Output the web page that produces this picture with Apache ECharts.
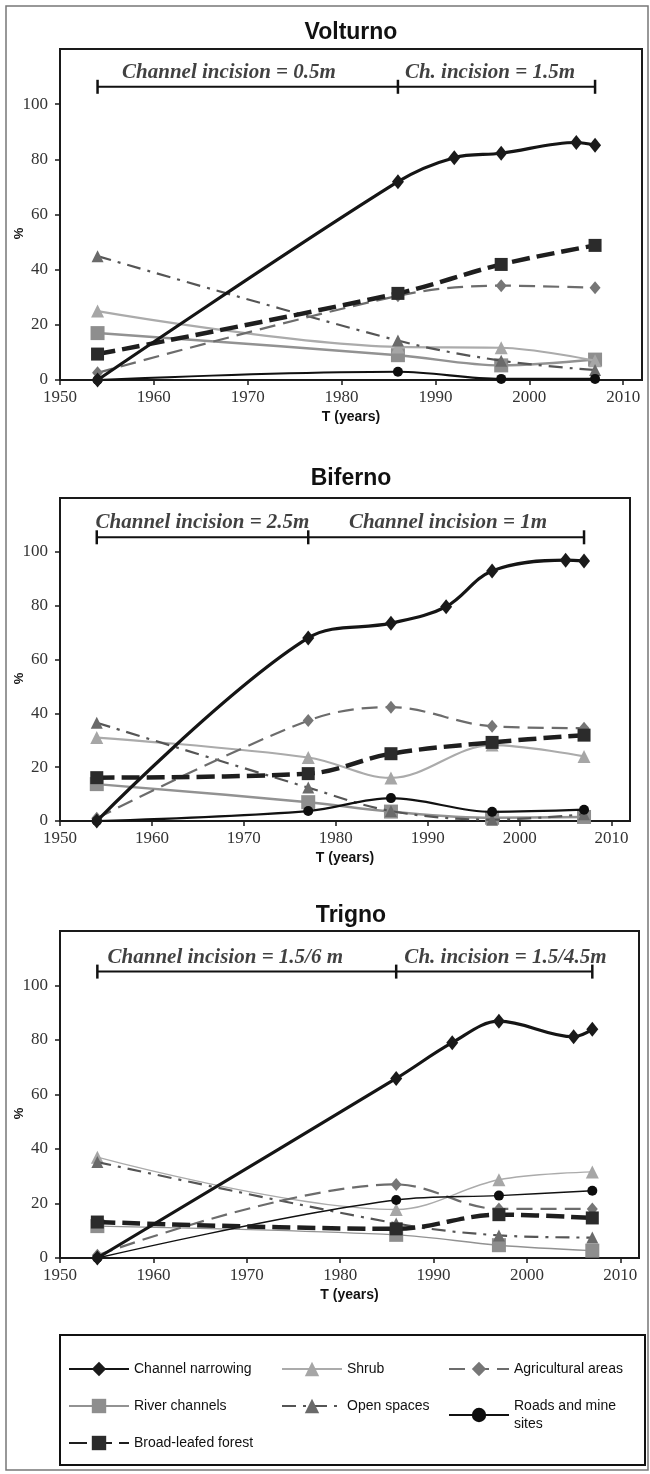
<!DOCTYPE html>
<html><head><meta charset="utf-8">
<script src="https://cdn.jsdelivr.net/npm/echarts@6/dist/echarts.min.js"></script>
<style>html,body{margin:0;padding:0;background:#fff}#c{width:650px;height:1474px}</style>
</head><body><div id="c"></div>
<script>
// ---------- data ----------
const panelTitles = ['Volturno', 'Biferno', 'Trigno'];
const xTickYears = [1950, 1960, 1970, 1980, 1990, 2000, 2010];
const yTickValues = [0, 20, 40, 60, 80, 100];
const seriesNames = ['River channels', 'Shrub', 'Open spaces', 'Agricultural areas',
  'Roads and mine sites', 'Broad-leafed forest', 'Channel narrowing'];

// Volturno
const volYearsCN = [1954, 1986, 1992, 1997, 2005, 2007];
const volCN = [0, 71.9, 80.6, 82.2, 86.1, 85.1];
const volYears = [1954, 1986, 1997, 2007];
const volRiver = [17, 9, 5.3, 7.4];
const volShrub = [25, 12, 11.7, 7];
const volOpen = [44.9, 14.3, 7, 3.6];
const volAgri = [2.6, 30.5, 34.2, 33.4];
const volRoads = [0, 3, 0.4, 0.4];
const volForest = [9.4, 31.4, 41.9, 48.8];
const volBracketYears = [1954, 1986, 2007];
const volBracketLevel = 106.3;
const volNotes = ['Channel incision = 0.5m', 'Ch. incision = 1.5m'];
const volNoteYears = [1968, 1995.8];

// Biferno
const bifYearsCN = [1954, 1977, 1986, 1992, 1997, 2005, 2007];
const bifCN = [0, 68, 73.5, 79.6, 92.9, 96.9, 96.6];
const bifYears = [1954, 1977, 1986, 1997, 2007];
const bifRiver = [13.7, 7, 3.5, 1.2, 1.5];
const bifShrub = [31, 23.6, 16, 28.2, 24];
const bifOpen = [36.5, 12.4, 3.7, 0.5, 2.5];
const bifAgri = [1, 37.3, 42.3, 35.2, 34.5];
const bifRoads = [0, 3.7, 8.5, 3.4, 4.2];
const bifForest = [16.1, 17.6, 25, 29.2, 31.9];
const bifBracketYears = [1954, 1977, 2007];
const bifBracketLevel = 105.4;
const bifNotes = ['Channel incision = 2.5m', 'Channel incision = 1m'];
const bifNoteYears = [1965.5, 1992.2];

// Trigno
const triYearsCN = [1954, 1986, 1992, 1997, 2005, 2007];
const triCN = [0, 65.9, 79, 86.9, 81.2, 83.9];
const triYears = [1954, 1986, 1997, 2007];
const triRiver = [11.7, 8.5, 4.7, 2.7];
const triShrub = [37, 17.8, 28.7, 31.6];
const triOpen = [35.2, 12.7, 8.3, 7.5];
const triAgri = [1, 27, 18, 18];
const triRoads = [0, 21.3, 22.9, 24.7];
const triForest = [13.2, 10.7, 15.9, 14.7];
const triBracketYears = [1954, 1986, 2007];
const triBracketLevel = 105.1;
const triNotes = ['Channel incision = 1.5/6 m', 'Ch. incision = 1.5/4.5m'];
const triNoteYears = [1967.7, 1997.7];

// ---------- assembly ----------
const panels = [
  {yearsCN: volYearsCN, cn: volCN, years: volYears, river: volRiver, shrub: volShrub, open: volOpen,
   agri: volAgri, roads: volRoads, forest: volForest, bYears: volBracketYears, bLevel: volBracketLevel,
   notes: volNotes, noteYears: volNoteYears},
  {yearsCN: bifYearsCN, cn: bifCN, years: bifYears, river: bifRiver, shrub: bifShrub, open: bifOpen,
   agri: bifAgri, roads: bifRoads, forest: bifForest, bYears: bifBracketYears, bLevel: bifBracketLevel,
   notes: bifNotes, noteYears: bifNoteYears},
  {yearsCN: triYearsCN, cn: triCN, years: triYears, river: triRiver, shrub: triShrub, open: triOpen,
   agri: triAgri, roads: triRoads, forest: triForest, bYears: triBracketYears, bLevel: triBracketLevel,
   notes: triNotes, noteYears: triNoteYears}
];

// layout (pixels)
const layout = [
  {left: 60, top: 49, width: 582, height: 331, titleTop: 16, thin: false},
  {left: 60, top: 498, width: 570, height: 323, titleTop: 462, thin: false},
  {left: 60, top: 931, width: 579, height: 327, titleTop: 899, thin: true}
];

const styles = {
  'River channels': {color: '#8e8e8e', line: '#929292', width: 2.5, type: 'solid', symbol: 'rect', size: 14},
  'Shrub': {color: '#a6a6a6', line: '#ababab', width: 2.2, type: 'solid', symbol: 'triangle', size: 13},
  'Open spaces': {color: '#6a6a6a', line: '#555555', width: 2.2, type: [14, 7, 3, 7], symbol: 'triangle', size: 12},
  'Agricultural areas': {color: '#767676', line: '#6c6c6c', width: 2.2, type: [16, 8], symbol: 'diamond', size: [11, 13]},
  'Roads and mine sites': {color: '#0d0d0d', line: '#111111', width: 2.2, type: 'solid', symbol: 'circle', size: 10},
  'Broad-leafed forest': {color: '#2b2b2b', line: '#1e1e1e', width: 4.5, type: [18, 7], symbol: 'rect', size: 13},
  'Channel narrowing': {color: '#1a1a1a', line: '#151515', width: 3.2, type: 'solid', symbol: 'diamond', size: [12, 15]}
};

const serifFont = 'Liberation Serif';
const sansFont = 'Liberation Sans';

const grids = [], xAxes = [], yAxes = [], series = [], titles = [];

panels.forEach((p, i) => {
  const L = layout[i];
  grids.push({left: L.left, top: L.top, width: L.width, height: L.height, show: true,
    outerBoundsMode: 'none', containLabel: false,
    borderColor: '#1a1a1a', borderWidth: 2, backgroundColor: 'transparent'});
  titles.push({text: panelTitles[i], left: 346, top: L.titleTop, textAlign: 'center',
    textStyle: {fontFamily: sansFont, fontWeight: 'bold', fontSize: 23, color: '#111'}});
  xAxes.push({type: 'value', gridIndex: i, min: 1950, max: 2012, interval: 10,
    name: 'T (years)', nameLocation: 'middle', nameGap: 30, nameMoveOverlap: false,
    nameTextStyle: {fontFamily: sansFont, fontWeight: 'bold', fontSize: 14, color: '#111'},
    axisLine: {lineStyle: {color: '#1a1a1a', width: 2}},
    axisTick: {show: true, inside: false, length: 5, lineStyle: {color: '#1a1a1a', width: 1.5}, customValues: xTickYears},
    axisLabel: {fontFamily: serifFont, fontSize: 17, color: '#333', margin: 9, customValues: xTickYears,
      formatter: v => String(v)},
    splitLine: {show: false}});
  yAxes.push({type: 'value', gridIndex: i, min: 0, max: 120, interval: 20,
    name: '%', nameLocation: 'middle', nameGap: 34, nameRotate: 90, nameMoveOverlap: false,
    nameTextStyle: {fontFamily: sansFont, fontWeight: 'bold', fontSize: 13, color: '#111', padding: [0, 38, 0, 0]},
    axisLine: {lineStyle: {color: '#1a1a1a', width: 2}},
    axisTick: {show: true, inside: false, length: 5, lineStyle: {color: '#1a1a1a', width: 1.5}, customValues: yTickValues},
    axisLabel: {fontFamily: serifFont, fontSize: 17, color: '#333', margin: 12, customValues: yTickValues,
      formatter: v => String(v)},
    splitLine: {show: false}});

  const dataFor = {
    'River channels': [p.years, p.river],
    'Shrub': [p.years, p.shrub],
    'Open spaces': [p.years, p.open],
    'Agricultural areas': [p.years, p.agri],
    'Roads and mine sites': [p.years, p.roads],
    'Broad-leafed forest': [p.years, p.forest],
    'Channel narrowing': [p.yearsCN, p.cn]
  };
  seriesNames.forEach((name, k) => {
    const s = styles[name];
    const [xs, ys] = dataFor[name];
    let w = s.width;
    if (L.thin && (name === 'Shrub' || name === 'Roads and mine sites' || name === 'River channels')) w = 1.4;
    series.push({
      name, type: 'line', xAxisIndex: i, yAxisIndex: i, smooth: 0.35,
      data: xs.map((x, j) => [x, ys[j]]),
      symbol: s.symbol, symbolSize: s.size, showSymbol: true,
      itemStyle: {color: s.color, borderWidth: 0},
      lineStyle: {color: s.line, width: w, type: s.type},
      z: 2 + k, emphasis: {disabled: true}
    });
  });
  // incision bracket
  series.push({
    name: 'bracket' + i, type: 'line', xAxisIndex: i, yAxisIndex: i,
    data: p.bYears.map(x => [x, p.bLevel]),
    symbol: 'rect', symbolSize: [2.5, 14], itemStyle: {color: '#111'},
    lineStyle: {color: '#111', width: 2}, z: 20, emphasis: {disabled: true}
  });
  // incision labels
  series.push({
    name: 'notes' + i, type: 'scatter', xAxisIndex: i, yAxisIndex: i,
    data: p.notes.map((t, j) => ({value: [p.noteYears[j], p.bLevel], name: t})),
    symbolSize: 0,
    label: {show: true, position: 'top', distance: 4, formatter: '{b}',
      fontFamily: serifFont, fontStyle: 'italic', fontWeight: 'bold', fontSize: 21, color: '#111'},
    z: 20, emphasis: {disabled: true}
  });
});

const legendText = {fontFamily: sansFont, fontSize: 14, color: '#111', lineHeight: 18};
const legendBase = {orient: 'vertical', itemWidth: 60, itemHeight: 18, itemGap: 19, top: 1360,
  selectedMode: false, textStyle: legendText, padding: 0};

const option = {
  animation: false,
  backgroundColor: '#fff',
  title: titles,
  grid: grids,
  xAxis: xAxes,
  yAxis: yAxes,
  legend: [
    Object.assign({}, legendBase, {left: 68, data: ['Channel narrowing', 'River channels', 'Broad-leafed forest']}),
    Object.assign({}, legendBase, {left: 281, data: ['Shrub', 'Open spaces']}),
    Object.assign({}, legendBase, {left: 448, data: ['Agricultural areas', 'Roads and mine sites'],
      formatter: n => n === 'Roads and mine sites' ? 'Roads and mine\nsites' : n})
  ],
  graphic: [
    {type: 'rect', shape: {x: 6, y: 6, width: 642, height: 1464}, style: {fill: 'none', stroke: '#777', lineWidth: 1.5}, silent: true},
    {type: 'rect', shape: {x: 60, y: 1335, width: 585, height: 130}, style: {fill: 'none', stroke: '#111', lineWidth: 2}, silent: true}
  ],
  series
};

const chart = echarts.init(document.getElementById('c'), null, {renderer: 'canvas'});
chart.setOption(option);
</script>
</body></html>
